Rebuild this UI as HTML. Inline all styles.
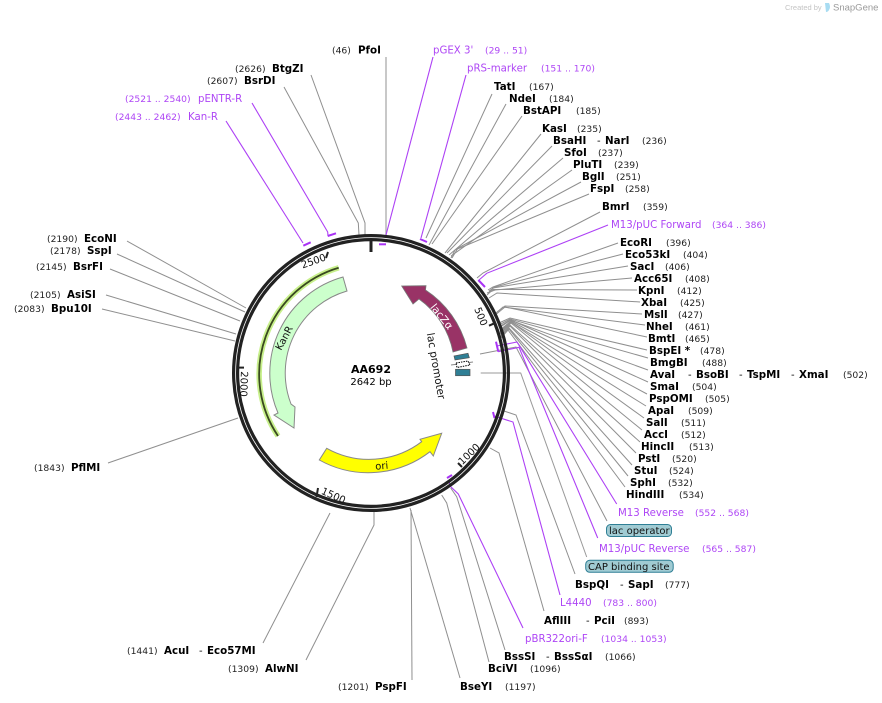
<!DOCTYPE html>
<html><head><meta charset="utf-8"><style>
html,body{margin:0;padding:0;background:#fff}
svg{display:block}
text{font-family:"DejaVu Sans",sans-serif;white-space:pre}
.n{font-size:10.3px;font-weight:bold;fill:#000}
.d{font-size:10px;fill:#000}
.c{font-size:9.2px;fill:#222}
.p{font-size:10.2px;fill:#ae46f5}
.r{font-size:9.2px;fill:#ae46f5}
.t{font-size:10px;fill:#111}
.g{fill:none;stroke:#8f8f8f;stroke-width:1}
.v{fill:none;stroke:#ad40f5;stroke-width:1.1}
.b{fill:none;stroke:#a933f5;stroke-width:2}
</style></head><body>
<svg width="882" height="703" viewBox="0 0 882 703" xmlns="http://www.w3.org/2000/svg">
<!-- logo -->
<text x="785" y="10" style="font-family:'Liberation Sans',sans-serif;font-size:7.5px;fill:#c4c4c4">Created by</text>
<path d="M825,3 h4 q2,4 0,7 q-1,2 -3,2 z" fill="#a8dcf2"/>
<text x="833" y="10.5" style="font-family:'Liberation Sans',sans-serif;font-size:9.5px;fill:#9a9a9a">SnapGene</text>

<!-- gray connectors -->
<g class="g">
<polyline points="127,241 246,308"/><polyline points="117,254 245,312"/><polyline points="110,269 240,321"/>
<polyline points="106,295 236,334"/><polyline points="102,309 235,341"/><polyline points="108,463 238,418"/>
<polyline points="263,643 330,513"/><polyline points="306,660 374,525 374,511"/>
<polyline points="412,680 411,510"/><polyline points="460,678 410,508"/>
<polyline points="489,662 446.7,503 441.7,495"/><polyline points="505,650 456.7,496.7 450.7,488"/>
<polyline points="544,611 499,453 490,448"/><polyline points="575,574 516,415 504,411"/>
<polyline points="311,75 365,223 365,235" /><polyline points="284,87 358.3,223 359,235"/>
<polyline points="492,94 426,238"/><polyline points="506,104 429,245"/><polyline points="522,116 432,244"/>
<polyline points="541,134 445,253"/><polyline points="552,146 447,253"/><polyline points="563,158 449,255"/>
<polyline points="572,170 451,256"/><polyline points="581,182 458,248 452,258"/><polyline points="589,194 455,250 451,258"/>
<polyline points="600,212 483,273 477,278"/>
<polyline points="618,243 493,287 488,290"/><polyline points="623,254 495,287 489,291"/><polyline points="628,266 493,288 489,292"/>
<polyline points="632,278 495,290 487,293"/><polyline points="637,290 493,289.5 487,295"/><polyline points="640,302 497,293 489,298"/>
<polyline points="642,314 505,306 497,312"/><polyline points="645,325 503,307 495,314"/><polyline points="647,337 505,307 494,316"/>
<polyline points="647,350 510,318 499,323"/><polyline points="648,358 510,319 499,325"/><polyline points="648,370 510,320 499,327"/>
<polyline points="648,382 511,320 499,328"/><polyline points="647,394 511,321 500,330"/><polyline points="646,406 511,322 500,331"/>
<polyline points="644,418 511,322 500,332"/><polyline points="642,430 511,323 500,333"/><polyline points="640,442 510,325 500,334"/>
<polyline points="636,453 510,326 501,335"/><polyline points="632,465 509,328 501,336"/><polyline points="628,476 509,329 501,337"/>
<polyline points="625,487 508,330 501,338"/>
<polyline points="480,354 516,347 607,521"/>
<polyline points="480.7,373 520.7,373 586.7,557" style="stroke:#999"/>
<line x1="386" y1="57" x2="386" y2="235" style="stroke:#aaa;stroke-width:1.3"/>
</g>

<!-- purple connectors -->
<g class="v">
<polyline points="433,57 386,235"/><polyline points="466,75 421,238"/>
<polyline points="226,121 303,243"/><polyline points="252,103 327.7,232 328,236"/>
<polyline points="608,225 486.7,273.3 479,280"/>
<polyline points="616.7,504 517,342 497,346"/><polyline points="597.7,538 519,347.3 498.3,351.7"/>
<polyline points="560,595 513,422 494,416"/><polyline points="523,628 458.3,494 450.7,486.7 448.3,480"/>
</g>
<g class="b">
<line x1="303.3" y1="245.7" x2="310.7" y2="242.3"/><line x1="327.7" y1="236" x2="336" y2="233.3"/>
<line x1="379" y1="244.3" x2="386" y2="244.3"/><line x1="420" y1="239" x2="427" y2="242"/>
<line x1="478.3" y1="280" x2="485" y2="287"/><line x1="496" y1="341.7" x2="498.3" y2="351.7"/>
<line x1="493" y1="412" x2="494.5" y2="418"/><line x1="447" y1="478" x2="452" y2="475"/>
</g>

<!-- backbone -->
<circle cx="371" cy="373" r="137.4" fill="none" stroke="#222" stroke-width="3.2"/>
<circle cx="371" cy="373" r="133.4" fill="none" stroke="#222" stroke-width="3.2"/>
<line x1="371" y1="240" x2="371" y2="252" stroke="#222" stroke-width="3"/>
<g stroke="#222" stroke-width="2">
<line x1="493.5" y1="323.7" x2="489" y2="325.7"/>
<line x1="462" y1="467" x2="458" y2="463"/>
<line x1="316.5" y1="497" x2="318" y2="488"/>
<line x1="238" y1="367.6" x2="244" y2="367.6"/>
<line x1="326" y1="258" x2="328" y2="252"/>
</g>
<text class="t" text-anchor="middle" transform="translate(481,316.5) rotate(68) translate(0,3.5)">500</text>
<text class="t" text-anchor="middle" transform="translate(469,454) rotate(-44) translate(0,3.5)">1000</text>
<text class="t" text-anchor="middle" transform="translate(333.5,495.5) rotate(24) translate(0,3.5)">1500</text>
<text class="t" text-anchor="middle" transform="translate(244,384) rotate(92.5) translate(0,3.5)">2000</text>
<text class="t" text-anchor="middle" transform="translate(313.5,261) rotate(-19.4) translate(0,3.5)">2500</text>

<!-- features -->
<path d="M338.7,267.7 A111,111 0 0 0 278,436" fill="none" stroke="#c8f08c" stroke-width="5.5"/>
<path d="M338.7,267.7 A111,111 0 0 0 278,436" fill="none" stroke="#3a4a20" stroke-width="1.8"/>
<path d="M347,291 A85.5,85.5 0 0 0 291,404 L295,407 L294,428 L274,415 L278,413 A100,100 0 0 1 343,277 Z" fill="#ccffcc" stroke="#888" stroke-width="1"/>
<text class="t" text-anchor="middle" transform="translate(284,338) rotate(-62) translate(0,3.5)">KanR</text>
<path d="M467,348 A99,99 0 0 0 425.5,290 L426,285.7 L401.7,286 L413,304 L419,299 A85,85 0 0 1 453,352 Z" fill="#993366" stroke="#777" stroke-width="0.8"/>
<text text-anchor="middle" transform="translate(441.7,316.7) rotate(51) translate(0,3.5)" style="font-size:10.5px;fill:#fff">lacZα</text>
<path d="M454,356 L468,353.3 L469.3,357.7 L455,360 Z" fill="#2f7f95" stroke="#555" stroke-width="0.7"/>
<line x1="451" y1="365" x2="473" y2="362" stroke="#888" stroke-width="1"/>
<path d="M456,363 L468,361 L470,365 L457,367.5 Z" fill="#fff" stroke="#000" stroke-width="1" stroke-dasharray="1.5 1"/>
<rect x="455.5" y="369.3" width="14.5" height="6.4" fill="#2f7f95" stroke="#555" stroke-width="0.7"/>
<text text-anchor="middle" transform="translate(436,366) rotate(80) translate(0,3.5)" style="font-size:10.5px;fill:#111">lac promoter</text>
<path d="M326.7,448.3 A87,87 0 0 0 421.7,441.7 L420,439.3 L441.7,433.3 L433.3,456 L430,451.7 A101,101 0 0 1 319.3,460 Z" fill="#ffff00" stroke="#888" stroke-width="1"/>
<text class="t" text-anchor="middle" transform="translate(381.7,465.7) rotate(-5) translate(0,3.5)">ori</text>

<!-- center -->
<text x="371" y="373" text-anchor="middle" style="font-size:11px;font-weight:bold">AA692</text>
<text x="371" y="385" text-anchor="middle" style="font-size:10px">2642 bp</text>

<!-- labels -->
<text class="c" x="332" y="53.5">(46)</text><text class="n" x="358" y="53.5">PfoI</text>
<text class="p" x="433" y="53.5">pGEX 3'</text><text class="r" x="485" y="53.5">(29 .. 51)</text>
<text class="p" x="467" y="71.5">pRS-marker</text><text class="r" x="541" y="71.5">(151 .. 170)</text>
<text class="n" x="494" y="90">TatI</text><text class="c" x="529" y="90">(167)</text>
<text class="n" x="509" y="102">NdeI</text><text class="c" x="549" y="102">(184)</text>
<text class="n" x="523" y="114">BstAPI</text><text class="c" x="576" y="114">(185)</text>
<text class="n" x="542" y="132">KasI</text><text class="c" x="577" y="132">(235)</text>
<text class="n" x="553" y="144">BsaHI</text><text class="d" x="597" y="144">-</text><text class="n" x="605" y="144">NarI</text><text class="c" x="642" y="144">(236)</text>
<text class="n" x="564" y="156">SfoI</text><text class="c" x="598" y="156">(237)</text>
<text class="n" x="573" y="168">PluTI</text><text class="c" x="614" y="168">(239)</text>
<text class="n" x="582" y="180">BglI</text><text class="c" x="616" y="180">(251)</text>
<text class="n" x="590" y="192">FspI</text><text class="c" x="625" y="192">(258)</text>
<text class="n" x="602" y="210">BmrI</text><text class="c" x="643" y="210">(359)</text>
<text class="p" x="611" y="228">M13/pUC Forward</text><text class="r" x="712" y="228">(364 .. 386)</text>
<text class="n" x="620" y="246">EcoRI</text><text class="c" x="666" y="246">(396)</text>
<text class="n" x="625" y="258">Eco53kI</text><text class="c" x="683" y="258">(404)</text>
<text class="n" x="630" y="270">SacI</text><text class="c" x="665" y="270">(406)</text>
<text class="n" x="634" y="282">Acc65I</text><text class="c" x="685" y="282">(408)</text>
<text class="n" x="638" y="294">KpnI</text><text class="c" x="677" y="294">(412)</text>
<text class="n" x="641" y="306">XbaI</text><text class="c" x="680" y="306">(425)</text>
<text class="n" x="644" y="318">MslI</text><text class="c" x="678" y="318">(427)</text>
<text class="n" x="646" y="330">NheI</text><text class="c" x="685" y="330">(461)</text>
<text class="n" x="648" y="342">BmtI</text><text class="c" x="685" y="342">(465)</text>
<text class="n" x="649" y="354">BspEI *</text><text class="c" x="700" y="354">(478)</text>
<text class="n" x="650" y="366">BmgBI</text><text class="c" x="702" y="366">(488)</text>
<text class="n" x="650" y="378">AvaI</text><text class="d" x="688" y="378">-</text><text class="n" x="696" y="378">BsoBI</text><text class="d" x="739" y="378">-</text><text class="n" x="747" y="378">TspMI</text><text class="d" x="791" y="378">-</text><text class="n" x="799" y="378">XmaI</text><text class="c" x="843" y="378">(502)</text>
<text class="n" x="650" y="390">SmaI</text><text class="c" x="692" y="390">(504)</text>
<text class="n" x="649" y="402">PspOMI</text><text class="c" x="705" y="402">(505)</text>
<text class="n" x="648" y="414">ApaI</text><text class="c" x="688" y="414">(509)</text>
<text class="n" x="646" y="426">SalI</text><text class="c" x="681" y="426">(511)</text>
<text class="n" x="644" y="438">AccI</text><text class="c" x="681" y="438">(512)</text>
<text class="n" x="641" y="450">HincII</text><text class="c" x="689" y="450">(513)</text>
<text class="n" x="638" y="462">PstI</text><text class="c" x="672" y="462">(520)</text>
<text class="n" x="634" y="474">StuI</text><text class="c" x="669" y="474">(524)</text>
<text class="n" x="630" y="486">SphI</text><text class="c" x="668" y="486">(532)</text>
<text class="n" x="626" y="498">HindIII</text><text class="c" x="679" y="498">(534)</text>
<text class="p" x="618" y="516">M13 Reverse</text><text class="r" x="695" y="516">(552 .. 568)</text>
<rect x="606.5" y="524.5" width="65" height="12" rx="4" fill="#a0cbd3" stroke="#2f7f95" stroke-width="1"/>
<text x="609" y="534" style="font-size:10px;fill:#111">lac operator</text>
<text class="p" x="599" y="552">M13/pUC Reverse</text><text class="r" x="702" y="552">(565 .. 587)</text>
<rect x="585.7" y="560.3" width="87.5" height="12" rx="4" fill="#a0cbd3" stroke="#2f7f95" stroke-width="1"/>
<text x="588" y="570" style="font-size:10px;fill:#111">CAP binding site</text>
<text class="n" x="575" y="588">BspQI</text><text class="d" x="620" y="588">-</text><text class="n" x="628" y="588">SapI</text><text class="c" x="665" y="588">(777)</text>
<text class="p" x="560" y="606">L4440</text><text class="r" x="603" y="606">(783 .. 800)</text>
<text class="n" x="544" y="624">AflIII</text><text class="d" x="586" y="624">-</text><text class="n" x="594" y="624">PciI</text><text class="c" x="624" y="624">(893)</text>
<text class="p" x="525" y="642">pBR322ori-F</text><text class="r" x="601" y="642">(1034 .. 1053)</text>
<text class="n" x="504" y="660">BssSI</text><text class="d" x="546" y="660">-</text><text class="n" x="554" y="660">BssSαI</text><text class="c" x="605" y="660">(1066)</text>
<text class="n" x="488" y="672">BciVI</text><text class="c" x="530" y="672">(1096)</text>
<text class="n" x="460" y="690">BseYI</text><text class="c" x="505" y="690">(1197)</text>
<text class="c" x="338" y="690">(1201)</text><text class="n" x="375" y="690">PspFI</text>
<text class="c" x="228" y="672">(1309)</text><text class="n" x="265" y="672">AlwNI</text>
<text class="c" x="127" y="654">(1441)</text><text class="n" x="164" y="654">AcuI</text><text class="d" x="199" y="654">-</text><text class="n" x="207" y="654">Eco57MI</text>
<text class="c" x="34" y="471">(1843)</text><text class="n" x="71" y="471">PflMI</text>
<text class="c" x="14" y="312">(2083)</text><text class="n" x="51" y="312">Bpu10I</text>
<text class="c" x="30" y="298">(2105)</text><text class="n" x="67" y="298">AsiSI</text>
<text class="c" x="36" y="270">(2145)</text><text class="n" x="73" y="270">BsrFI</text>
<text class="c" x="50" y="254">(2178)</text><text class="n" x="87" y="254">SspI</text>
<text class="c" x="47" y="242">(2190)</text><text class="n" x="84" y="242">EcoNI</text>
<text class="r" x="115" y="120">(2443 .. 2462)</text><text class="p" x="188" y="120">Kan-R</text>
<text class="r" x="125" y="102">(2521 .. 2540)</text><text class="p" x="198" y="102">pENTR-R</text>
<text class="c" x="207" y="84">(2607)</text><text class="n" x="244" y="84">BsrDI</text>
<text class="c" x="235" y="72">(2626)</text><text class="n" x="272" y="72">BtgZI</text>
</svg>
</body></html>
